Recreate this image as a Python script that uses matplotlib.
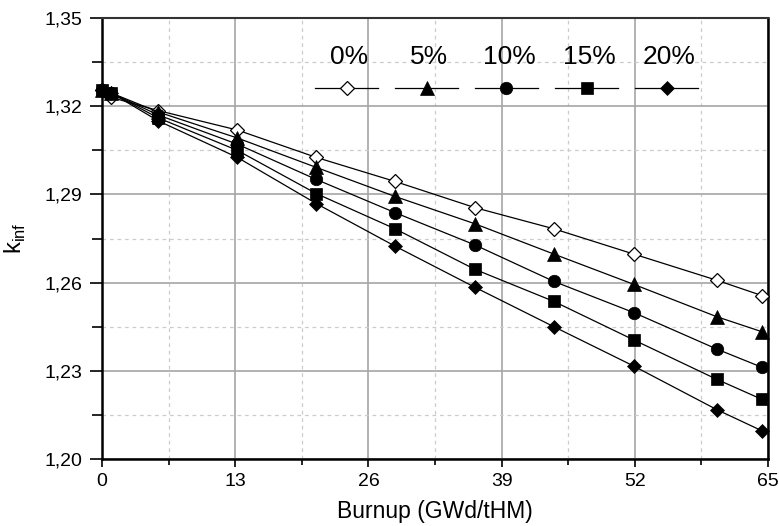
import matplotlib
matplotlib.use("Agg")
import matplotlib.pyplot as plt
from matplotlib.lines import Line2D
from matplotlib.ticker import MultipleLocator, FuncFormatter

plt.rcParams['font.family'] = ['Liberation Sans', 'DejaVu Sans']
plt.rcParams['mathtext.fontset'] = 'custom'
plt.rcParams['mathtext.rm'] = 'Liberation Sans'

# Data
burnup = [0.0, 0.9, 5.5, 13.2, 20.9, 28.6, 36.4, 44.1, 51.9, 60.0, 64.4]
labels = ["0%", "5%", "10%", "15%", "20%"]
k_0 = [1.3255, 1.3230, 1.3185, 1.3119, 1.3026, 1.2944, 1.2855, 1.2783, 1.2697, 1.2608, 1.2556]
k_5 = [1.3255, 1.3245, 1.3180, 1.3092, 1.2992, 1.2893, 1.2800, 1.2697, 1.2594, 1.2484, 1.2433]
k_10 = [1.3255, 1.3245, 1.3170, 1.3071, 1.2951, 1.2838, 1.2728, 1.2604, 1.2498, 1.2374, 1.2312]
k_15 = [1.3255, 1.3245, 1.3160, 1.3050, 1.2903, 1.2783, 1.2645, 1.2536, 1.2405, 1.2271, 1.2203]
k_20 = [1.3255, 1.3245, 1.3150, 1.3026, 1.2869, 1.2724, 1.2584, 1.2450, 1.2316, 1.2168, 1.2096]
series = [k_0, k_5, k_10, k_15, k_20]
xticks = [0, 13, 26, 39, 52, 65]
yticks = [1.20, 1.23, 1.26, 1.29, 1.32, 1.35]

styles = [
    dict(marker='D', ms=7.0, mfc='white', mec='black', mew=0.9),
    dict(marker='^', ms=9.5, mfc='black', mec='black', mew=0.5),
    dict(marker='o', ms=9.0, mfc='black', mec='black', mew=0.5),
    dict(marker='s', ms=8.0, mfc='black', mec='black', mew=0.5),
    dict(marker='D', ms=7.0, mfc='black', mec='black', mew=0.5),
]

fig = plt.figure(figsize=(7.79, 5.26), dpi=100)
ax = fig.add_axes([102/779, 1 - 459/526, (768-102)/779, (459-18)/526])

for ys, st in zip(series, styles):
    ax.plot(burnup, ys, color='black', lw=0.9, zorder=3, clip_on=False, **st)

ax.set_xlim(0, 65)
ax.set_ylim(1.20, 1.35)
ax.set_xticks(xticks)
ax.set_yticks(yticks)
ax.xaxis.set_minor_locator(MultipleLocator(6.5))
ax.yaxis.set_minor_locator(MultipleLocator(0.015))
ax.yaxis.set_major_formatter(FuncFormatter(lambda v, p: f"{v:.2f}".replace('.', ',')))

ax.grid(which='major', color='#a6a6a6', lw=1.2, ls='-', zorder=0)
ax.grid(which='minor', color='#cccccc', lw=0.9, ls=(0, (3, 3)), zorder=0)
ax.set_axisbelow(True)

ax.tick_params(axis='both', which='major', direction='out', labelsize=14, colors='black', width=1.2)
ax.tick_params(axis='y', which='major', length=9, pad=5)
ax.tick_params(axis='y', which='minor', length=7, width=1.2)
ax.tick_params(axis='x', which='major', length=6, pad=4)
ax.tick_params(axis='x', which='minor', length=4, width=1.2)

for side in ['left', 'bottom', 'right']:
    ax.spines[side].set_linewidth(1.8)
    ax.spines[side].set_color('black')
ax.spines['top'].set_linewidth(1.5)
ax.spines['top'].set_color('#333333')

ax.set_xlabel("Burnup (GWd/tHM)", fontsize=16.5, labelpad=7)
ax.set_ylabel(r"k$_{\mathregular{inf}}$", fontsize=17, labelpad=12)

# Legend (labels above handles)
x0 = (315 - 102) / 666
w = (378 - 315) / 666
step = 80 / 666
y_line = 0.841
y_text = 0.912
for i, (lab, st) in enumerate(zip(labels, styles)):
    xs = x0 + i * step
    ax.add_line(Line2D([xs, xs + w], [y_line, y_line], transform=ax.transAxes,
                       color='black', lw=0.9, zorder=4))
    ax.add_line(Line2D([xs + w / 2], [y_line], transform=ax.transAxes,
                       color='black', lw=0, zorder=5, **st))
    ax.text(xs + w / 2 + 0.004, y_text, lab, transform=ax.transAxes,
            ha='center', va='center', fontsize=19, zorder=5)

fig.savefig("out.png", dpi=100)
